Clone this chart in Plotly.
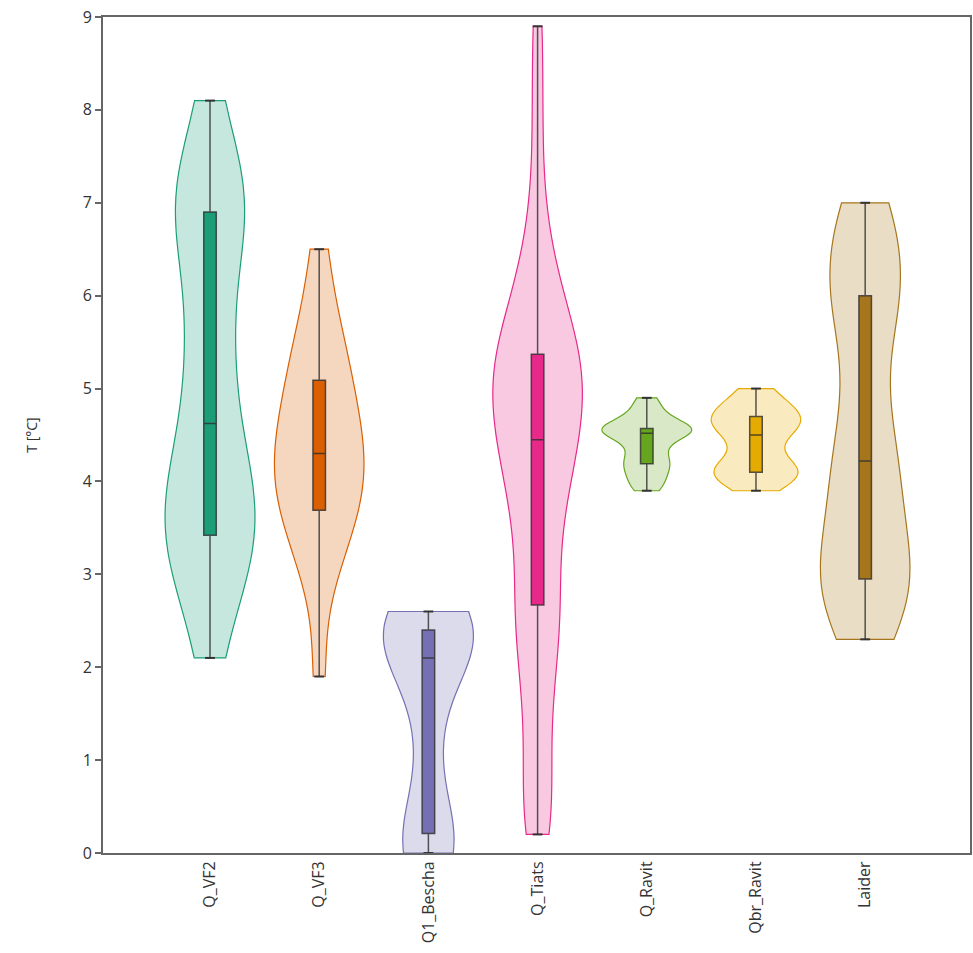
import plotly.graph_objects as go

categories = ["Q_VF2", "Q_VF3", "Q1_Bescha", "Q_Tiats", "Q_Ravit", "Qbr_Ravit", "Laider"]

q_vf2 = [2.1, 2.75, 3.1, 3.35, 3.4, 3.44, 3.7, 3.92, 4.15, 4.4,
         4.85, 5.3, 5.7, 6.1, 6.85, 6.95, 7.0, 7.05, 7.3, 8.1]
q_vf3 = [1.9, 2.9, 3.2, 3.45, 3.65, 3.73, 3.85, 4.0, 4.15, 4.25,
         4.35, 4.5, 4.65, 4.8, 5.0, 5.18, 5.35, 5.6, 5.9, 6.5]
q1_bescha = [0.0, 0.0, 0.02, 0.04, 0.06, 0.36, 0.8, 1.3, 1.7, 1.95,
             2.25, 2.3, 2.33, 2.36, 2.38, 2.42, 2.45, 2.5, 2.55, 2.6]
q_tiats = [0.2, 0.3, 0.6, 0.95, 1.35, 1.7, 2.0, 2.25, 2.45, 2.62,
           2.72, 3.0, 3.25, 3.5, 3.7, 3.85, 4.0, 4.15, 4.28, 4.4,
           4.5, 4.6, 4.7, 4.8, 4.9, 5.0, 5.1, 5.2, 5.27, 5.33,
           5.41, 5.55, 5.7, 5.85, 6.0, 6.25, 6.5, 7.1, 8.0, 8.9]
q_ravit = [3.9, 3.97, 4.04, 4.11, 4.18, 4.2, 4.27, 4.34, 4.42, 4.5,
           4.54, 4.55, 4.56, 4.56, 4.56, 4.58, 4.64, 4.72, 4.8, 4.9]
qbr_ravit = [3.9, 4.0, 4.06, 4.09, 4.1, 4.1, 4.13, 4.22, 4.34, 4.46,
             4.54, 4.58, 4.62, 4.66, 4.7, 4.7, 4.76, 4.83, 4.9, 5.0]
laider = [2.3, 2.75, 2.85, 2.92, 2.98, 3.45, 3.85, 4.1, 4.34, 4.8,
          5.55, 5.9, 6.1, 6.4, 6.7, 7.0]

series = [q_vf2, q_vf3, q1_bescha, q_tiats, q_ravit, qbr_ravit, laider]
colors = ["#1b9e77", "#d95f02", "#7570b3", "#e7298a", "#66a61e", "#e6ab02", "#a6761d"]
bandwidths = [0.7, 0.5, 0.5, 0.55, 0.1, 0.15, 0.6]


def rgba(hexc, a):
    h = hexc.lstrip("#")
    r, g, b = int(h[0:2], 16), int(h[2:4], 16), int(h[4:6], 16)
    return f"rgba({r},{g},{b},{a})"


fig = go.Figure()
for name, vals, col, bw in zip(categories, series, colors, bandwidths):
    fig.add_trace(go.Violin(
        x=[name] * len(vals), y=vals, name=name,
        line=dict(color=col, width=1.2),
        fillcolor=rgba(col, 0.25),
        spanmode="hard", bandwidth=bw,
        scalemode="width", width=0.82,
        points=False,
        box=dict(visible=True, width=0.14, fillcolor=col,
                 line=dict(color="rgba(45,45,45,0.8)", width=1.5)),
        meanline=dict(visible=False),
        showlegend=False, hoverinfo="skip",
    ))
    fig.add_trace(go.Scatter(
        x=[name, name], y=[min(vals), max(vals)], mode="markers",
        marker=dict(symbol="line-ew", size=7, line=dict(color="#333333", width=2)),
        showlegend=False, hoverinfo="skip",
    ))

fig.update_layout(
    width=973, height=953,
    margin=dict(l=103, r=3, t=17, b=100),
    paper_bgcolor="white", plot_bgcolor="white",
    font=dict(family="Open Sans, Noto Sans, sans-serif", size=16, color="#333333"),
    violingap=0, violinmode="overlay",
)
fig.update_xaxes(
    type="category", categoryorder="array", categoryarray=categories,
    range=[-0.98, 6.96], tickangle=-90, ticks="",
    showline=True, linecolor="#666666", linewidth=2, mirror=True,
    showgrid=False, zeroline=False, tickfont=dict(size=16),
    automargin=False,
)
fig.update_yaxes(
    range=[0, 9], dtick=1, ticks="outside", ticklen=6, tickwidth=1.5,
    tickcolor="#666666",
    showline=True, linecolor="#666666", linewidth=2, mirror=True,
    showgrid=False, zeroline=False, tickfont=dict(size=16),
    automargin=False, ticklabeloverflow="allow",
    title=dict(text="T [°C]", standoff=42, font=dict(size=14)),
)

fig.write_html(
    "out.html",
    config={"displayModeBar": False},
    post_script="document.body.style.margin='0';document.body.style.overflow='hidden';",
)
